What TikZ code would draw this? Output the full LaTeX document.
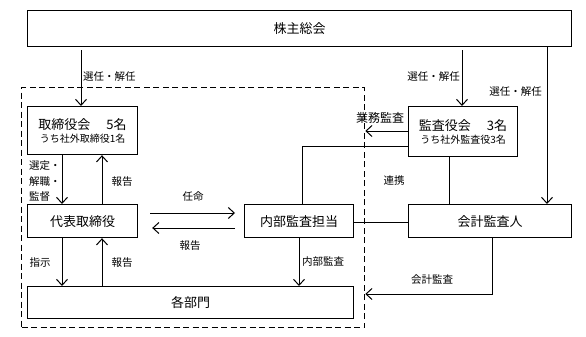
\documentclass[tikz,border=0pt]{standalone}
\usepackage{fontspec}
\setmainfont{Noto Sans CJK JP}
\usetikzlibrary{arrows.meta}
\begin{document}
\begin{tikzpicture}[x=1pt,y=-1pt,
  box/.style={draw, line width=1.2pt, inner sep=0pt, anchor=north west,
    font=\fontsize{13}{15}\selectfont, align=center},
  sub/.style={font=\fontsize{10}{12}\selectfont},
  lbl/.style={font=\fontsize{10.5}{12}\selectfont, inner sep=0pt},
  arr/.style={line width=1pt, -{Straight Barb[length=6pt,width=11pt,line width=1pt]}},
  ln/.style={line width=1pt},
  grp/.style={draw, line width=1.3pt, dash pattern=on 6pt off 3.5pt,
    inner sep=0pt, anchor=north west}]
\useasboundingbox (0,0) rectangle (586,337);
\fill[white] (0,0) rectangle (586,337);

% label under the dashed line
\node[lbl, font=\fontsize{12}{14}\selectfont] (lgyomu) at (380,118) {業務監査};

% dashed group
\node[grp, minimum width=343pt, minimum height=240pt] (group) at (21,87) {};

% boxes
\node[box, minimum width=544pt, minimum height=36pt] (soukai) at (27,10) {株主総会};
\node[box, minimum width=110pt, minimum height=48pt] (tori) at (27,106)
  {取締役会\hspace{16pt}5名\\[-2pt]{\fontsize{10}{11}\selectfont うち社外取締役1名}};
\node[box, minimum width=109pt, minimum height=50pt] (kansa) at (408,106)
  {監査役会\hspace{16pt}3名\\[-2pt]{\fontsize{10}{11}\selectfont うち社外監査役3名}};
\node[box, minimum width=110pt, minimum height=33pt] (daihyo) at (27,204) {代表取締役};
\node[box, minimum width=109pt, minimum height=33pt] (naibu) at (244,204) {内部監査担当};
\node[box, minimum width=163pt, minimum height=33pt] (kaikei) at (408,204) {会計監査人};
\node[box, minimum width=326pt, minimum height=32pt] (kaku) at (27,286) {各部門};

% connectors
\draw[arr, shorten <=3pt] (soukai.south -| 81,0) -- (tori.north -| 81,0);
\draw[arr, shorten <=3pt] (soukai.south -| 462,0) -- (kansa.north -| 462,0);
\draw[arr] (soukai.south -| 547,0) -- (kaikei.north -| 547,0);
\draw[arr] (tori.south -| 62,0) -- (daihyo.north -| 62,0);
\draw[arr] (daihyo.north -| 102,0) -- (tori.south -| 102,0);
\draw[arr, shorten <=12pt, shorten >=9pt] (daihyo.east |- 0,213) -- (naibu.west |- 0,213);
\draw[arr, shorten <=9pt, shorten >=14pt] (naibu.west |- 0,228) -- (daihyo.east |- 0,228);
\draw[arr] (daihyo.south -| 62,0) -- (kaku.north -| 62,0);
\draw[arr] (kaku.north -| 102,0) -- (daihyo.south -| 102,0);
\draw[arr] (naibu.south -| 299,0) -- (kaku.north -| 299,0);
\draw[arr] (kansa.west |- 0,131) -- (group.east |- 0,131);
\draw[ln] (kansa.west |- 0,146) -| (naibu.north -| 302,0);
\draw[ln] (kansa.south -| 449,0) -- (kaikei.north -| 449,0);
\draw[ln] (naibu.east |- 0,222) -- (kaikei.west |- 0,222);
\draw[arr] (kaikei.south -| 492,0) |- (group.east |- 0,294);

% labels
\node[lbl, anchor=west] (l1) at (83,77) {選任・解任};
\node[lbl, anchor=east] (l2) at (460,77) {選任・解任};
\node[lbl, anchor=east] (l3) at (542,92) {選任・解任};
\node[lbl, anchor=west] (l4) at (29,166) {選定・};
\node[lbl, anchor=west] (l5) at (29,182) {解職・};
\node[lbl, anchor=west] (l6) at (29,197) {監督};
\node[lbl] (l7) at (122,182) {報告};
\node[lbl] (l8) at (193,197) {任命};
\node[lbl] (l9) at (190,246) {報告};
\node[lbl] (l10) at (40,263) {指示};
\node[lbl] (l11) at (122,263) {報告};
\node[lbl, anchor=west] (l12) at (302,262) {内部監査};
\node[lbl] (l13) at (394,181) {連携};
\node[lbl] (l14) at (432,280) {会計監査};
\end{tikzpicture}
\end{document}
